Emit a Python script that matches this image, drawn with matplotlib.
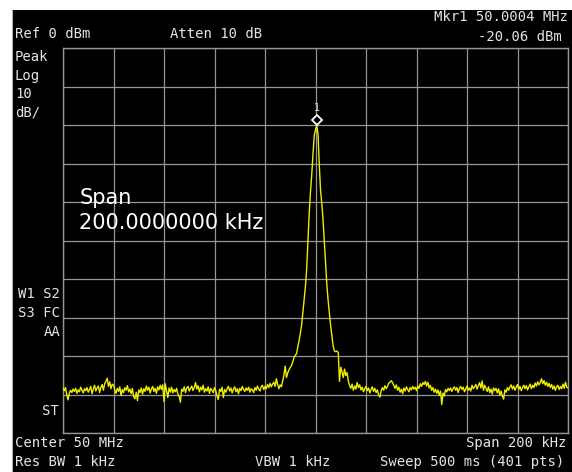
import numpy as np
from matplotlib import pyplot as plt
from matplotlib.lines import Line2D
from matplotlib.patches import Rectangle
from matplotlib.transforms import offset_copy

WIDTH, HEIGHT = 572, 472

span_khz = 200.0
ref_level_dbm = 0.0
db_per_div = 10.0
marker_offset_khz = 0.4
marker_level_dbm = -20.06

# trace, 401 points across the span (dBm)
trace_dbm = [
    # left noise floor
    -88.3, -89.0, -88.2, -90.1, -91.4, -89.6, -88.9, -89.5, -88.6, -89.2,
    -88.4, -89.7, -88.8, -89.3, -88.1, -88.9, -89.6, -88.5, -89.0, -88.2,
    -89.4, -88.7, -87.9, -89.8, -88.6, -87.6, -89.1, -88.3, -87.8, -89.5,
    -88.2, -87.4, -88.9, -87.2, -86.6, -85.8, -87.9, -86.7, -88.5, -87.3,
    -87.6, -88.8, -89.7, -88.4, -89.2, -88.0, -90.3, -88.7, -89.5, -88.2,
    -88.9, -87.7, -89.3, -88.6, -89.8, -88.4, -90.6, -91.1, -89.4, -91.6,
    -88.8, -89.5, -88.3, -89.9, -88.5, -89.2, -87.8, -88.9, -88.1, -89.6,
    -88.6, -87.9, -89.2, -88.4, -89.7, -88.0, -88.8, -87.6, -88.7, -87.5,
    -91.8, -87.2, -89.0, -90.8, -88.3, -89.4, -88.1, -89.6, -88.7, -89.3,
    -88.4, -89.9, -90.5, -92.0, -88.6, -89.2, -88.0, -89.5, -88.3, -87.9,
    -89.1, -88.4, -87.8, -89.0, -88.2, -86.9, -88.6, -87.7, -89.3, -88.1,
    -88.8, -87.6, -89.4, -88.5, -89.1, -88.0, -89.7, -88.4, -88.9, -89.5,
    -88.2, -89.0, -90.4, -91.3, -88.6, -89.2, -88.1, -90.8, -88.7, -89.4,
    -88.5, -87.9, -89.1, -88.3, -89.6, -88.6, -88.0, -89.3, -88.5, -89.8,
    -88.4, -89.0, -87.9, -88.7, -89.2, -88.3, -88.9, -88.1, -89.4, -88.5,
    -88.8, -89.5, -88.2, -88.9, -87.8, -88.6, -89.1, -88.0, -87.6, -88.7,
    -87.9, -88.5, -87.4, -88.2, -87.1, -88.0, -87.3, -86.8, -87.9, -85.9,
    -87.4, -88.5, -87.5, -88.0,
    # carrier
    -86.5, -85.0, -82.6, -85.6, -84.4, -83.6, -83.0, -82.5, -81.5, -80.4,
    -79.8, -79.4, -77.6, -76.0, -74.0, -72.0, -68.6, -65.5, -62.0, -57.5,
    -50.5, -43.0, -37.5, -33.0, -27.6, -22.8, -21.2, -20.06, -22.4, -30.5,
    -37.0, -40.4, -44.8, -50.5, -56.0, -61.6, -65.6, -69.0, -72.2, -74.8,
    -77.4, -78.7, -78.9, -78.7, -79.1, -86.6, -82.9, -84.1, -85.6, -83.4,
    -85.1, -84.3, -86.5,
    # right noise floor
    -87.6, -88.4, -87.3, -88.9, -87.8, -88.6, -86.9, -88.2, -87.5, -88.8,
    -88.1, -89.3, -88.5, -87.9, -89.0, -88.3, -89.6, -88.7, -88.0, -89.2,
    -88.4, -89.5, -88.8, -90.1, -90.7, -89.0, -88.2, -88.9, -87.7, -88.5,
    -87.9, -87.1, -86.8, -86.4, -86.9, -87.6, -88.4, -87.5, -88.9, -88.1,
    -89.4, -88.6, -89.8, -88.3, -89.1, -88.0, -88.7, -89.3, -88.2, -88.8,
    -87.9, -88.6, -88.1, -89.0, -87.8, -88.4, -87.2, -87.9, -86.9, -87.4,
    -86.6, -87.8, -86.8, -88.3, -87.6, -88.9, -88.2, -89.4, -88.6, -89.7,
    -88.8, -90.2, -89.1, -92.6, -89.6, -90.4, -88.7, -89.3, -88.4, -89.0,
    -88.3, -89.2, -88.5, -88.0, -88.9, -88.2, -89.5, -88.4, -87.9, -88.7,
    -88.1, -89.3, -88.6, -87.8, -88.9, -88.3, -89.1, -87.6, -88.5, -88.0,
    -87.4, -88.6, -87.7, -86.9, -88.3, -86.5, -88.9, -87.6, -88.4, -89.2,
    -88.0, -89.5, -88.6, -89.9, -88.3, -89.0, -88.4, -89.6, -88.5, -90.2,
    -89.1, -90.4, -91.2, -88.8, -89.4, -88.2, -88.9, -88.0, -87.5, -88.6,
    -87.8, -88.9, -88.1, -87.4, -88.7, -87.9, -89.0, -88.2, -87.6, -88.5,
    -87.7, -88.8, -88.0, -87.3, -88.5, -87.6, -88.2, -87.0, -87.8, -86.7,
    -87.5, -86.9, -85.9, -87.2, -86.4, -87.6, -86.8, -87.9, -87.1, -88.2,
    -87.4, -88.6, -87.8, -88.9, -88.0, -87.6, -88.7, -87.9, -88.5, -87.3,
    -88.4, -86.8, -88.1, -88.3,
]

# annotation texts: (text, x px, y px, horizontal alignment)
header_texts = [
    ("Ref 0 dBm", 15, 34, "left"),
    ("Atten 10 dB", 170, 34, "left"),
    ("Mkr1 50.0004 MHz", 568, 17, "right"),
    ("-20.06 dBm", 562, 37, "right"),
]
side_texts = [
    ("Peak", 15, 57, "left"),
    ("Log", 15, 76, "left"),
    ("10", 15, 94, "left"),
    ("dB/", 15, 112, "left"),
    ("W1 S2", 60, 294, "right"),
    ("S3 FC", 60, 313, "right"),
    ("AA", 60, 332, "right"),
    ("ST", 59, 411, "right"),
]
footer_texts = [
    ("Center 50 MHz", 15, 443, "left"),
    ("Res BW 1 kHz", 15, 462, "left"),
    ("VBW 1 kHz", 255, 462, "left"),
    ("Span 200 kHz", 566, 443, "right"),
    ("Sweep 500 ms (401 pts)", 564, 462, "right"),
]
big_span_lines = ["Span", "200.0000000 kHz"]

SCREEN = "black"
GRID = "#959595"
TEXT = "#e4e4e4"
TRACE = "#eeee00"


def fx(x):
    return x / WIDTH


def fy(y):
    return 1 - y / HEIGHT


fig = plt.figure(figsize=(WIDTH / 100, HEIGHT / 100), dpi=100)
fig.patch.set_facecolor("white")
fig.patches.append(
    Rectangle((fx(12), 0), 1 - fx(12), fy(10), transform=fig.transFigure,
              facecolor=SCREEN, edgecolor="none", zorder=-10)
)
fig.lines.append(
    Line2D([fx(11.5), fx(11.5)], [0, fy(10)], transform=fig.transFigure,
           color="#b0b0b0", linewidth=0.8, zorder=-9)
)

ax = fig.add_axes([fx(63), fy(433), fx(568) - fx(63), fy(48) - fy(433)])
ax.set_facecolor(SCREEN)
half_span = span_khz / 2
bottom_level = ref_level_dbm - 10 * db_per_div
ax.set_xlim(-half_span, half_span)
ax.set_ylim(bottom_level, ref_level_dbm)
ax.set_xticks(np.linspace(-half_span, half_span, 11))
ax.set_yticks(np.linspace(bottom_level, ref_level_dbm, 11))
ax.tick_params(length=0, labelbottom=False, labelleft=False)
ax.grid(True, color=GRID, linewidth=0.9)
for spine in ax.spines.values():
    spine.set_color(GRID)
    spine.set_linewidth(1.0)

freqs = np.linspace(-half_span, half_span, len(trace_dbm))
ax.plot(freqs, trace_dbm, color=TRACE, linewidth=1.0, zorder=3)

# marker 1 sits just above the peak
lifted = offset_copy(ax.transData, fig=fig, y=5, units="dots")
ax.plot([marker_offset_khz], [marker_level_dbm], marker="D", markersize=5,
        markerfacecolor=SCREEN, markeredgecolor="white", markeredgewidth=1.3,
        transform=lifted, zorder=4)
ax.annotate("1", (marker_offset_khz, marker_level_dbm), xytext=(0, 17),
            textcoords="offset pixels", ha="center", va="center",
            color=TEXT, fontsize=7, family="DejaVu Sans Mono")

for text, x, y, ha in header_texts + side_texts + footer_texts:
    fig.text(fx(x), fy(y), text, ha=ha, va="center", color=TEXT,
             fontsize=10, family="DejaVu Sans Mono")

fig.text(fx(80), fy(198), big_span_lines[0], ha="left", va="center",
         color="white", fontsize=15, family="DejaVu Sans")
fig.text(fx(79), fy(223), big_span_lines[1], ha="left", va="center",
         color="white", fontsize=15, family="DejaVu Sans")

fig.savefig("out.png", dpi=100, facecolor=fig.get_facecolor())
